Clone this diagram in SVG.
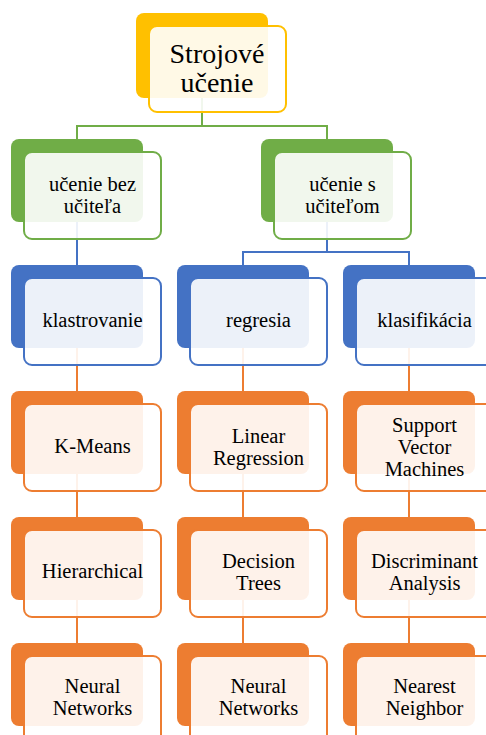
<svg xmlns="http://www.w3.org/2000/svg" width="486" height="735" viewBox="0 0 486 735">
<style>
.bk{stroke:none}
.fr{fill:#fff;fill-opacity:0.9;stroke-width:2}
.y .bk{fill:#FFC000}.y .fr{stroke:#FFC000}
.g .bk{fill:#70AD47}.g .fr{stroke:#70AD47}
.b .bk{fill:#4472C4}.b .fr{stroke:#4472C4}
.o .bk{fill:#ED7D31}.o .fr{stroke:#ED7D31}
.c{fill:none;stroke-width:2}
.cg{stroke:#70AD47}.cb{stroke:#4472C4}.co{stroke:#ED7D31}
svg text, text, tspan{font-family:'Liberation Serif','Times New Roman',serif !important;fill:#000;text-anchor:middle}
</style>
<rect width="486" height="735" fill="#fff"/>
<g id="connectors">
<path class="c cg" d="M202 98V126M77 126H327M77 125V139M327 125V139"/>
<path class="c cb" d="M77 222V265M327 222V252M243 252H409M243 251V265M409 251V265"/>
<path class="c co" d="M77 348V391M243 348V391M409 348V391M77 474V517M243 474V517M409 474V517M77 600V643M243 600V643M409 600V643"/>
</g>
<g id="n-root" class="y">
<rect class="bk" x="136" y="13" width="132" height="85" rx="8"/>
<rect class="fr" x="149" y="26" width="137" height="86" rx="8"/>
<text style="font-family:'Liberation Serif',serif !important;font-size:28px" x="217" y="63">Strojové</text>
<text style="font-family:'Liberation Serif',serif !important;font-size:28px" x="217" y="92">učenie</text>
</g>
<g id="n-bez" class="g">
<rect class="bk" x="11" y="139" width="132" height="83" rx="8"/>
<rect class="fr" x="24" y="152" width="137" height="87" rx="8"/>
<text style="font-family:'Liberation Serif',serif !important;font-size:20.5px" x="92.5" y="191">učenie bez</text>
<text style="font-family:'Liberation Serif',serif !important;font-size:20.5px" x="92.5" y="213">učiteľa</text>
</g>
<g id="n-s" class="g">
<rect class="bk" x="261" y="139" width="132" height="83" rx="8"/>
<rect class="fr" x="274" y="152" width="137" height="87" rx="8"/>
<text style="font-family:'Liberation Serif',serif !important;font-size:20.5px" x="342.5" y="191">učenie s</text>
<text style="font-family:'Liberation Serif',serif !important;font-size:20.5px" x="342.5" y="213">učiteľom</text>
</g>
<g id="n-klastrovanie" class="b">
<rect class="bk" x="11" y="265" width="132" height="83" rx="8"/>
<rect class="fr" x="24" y="278" width="137" height="87" rx="8"/>
<text style="font-family:'Liberation Serif',serif !important;font-size:20.5px" x="92.5" y="327">klastrovanie</text>
</g>
<g id="n-regresia" class="b">
<rect class="bk" x="177" y="265" width="132" height="83" rx="8"/>
<rect class="fr" x="190" y="278" width="137" height="87" rx="8"/>
<text style="font-family:'Liberation Serif',serif !important;font-size:20.5px" x="258.5" y="327">regresia</text>
</g>
<g id="n-klasifikacia" class="b">
<rect class="bk" x="343" y="265" width="132" height="83" rx="8"/>
<rect class="fr" x="356" y="278" width="137" height="87" rx="8"/>
<text style="font-family:'Liberation Serif',serif !important;font-size:20.5px" x="424.5" y="327">klasifikácia</text>
</g>
<g id="n-kmeans" class="o">
<rect class="bk" x="11" y="391" width="132" height="83" rx="8"/>
<rect class="fr" x="24" y="404" width="137" height="87" rx="8"/>
<text style="font-family:'Liberation Serif',serif !important;font-size:20.5px" x="92.5" y="453">K-Means</text>
</g>
<g id="n-linreg" class="o">
<rect class="bk" x="177" y="391" width="132" height="83" rx="8"/>
<rect class="fr" x="190" y="404" width="137" height="87" rx="8"/>
<text style="font-family:'Liberation Serif',serif !important;font-size:20.5px" x="258.5" y="443">Linear</text>
<text style="font-family:'Liberation Serif',serif !important;font-size:20.5px" x="258.5" y="465">Regression</text>
</g>
<g id="n-svm" class="o">
<rect class="bk" x="343" y="391" width="132" height="83" rx="8"/>
<rect class="fr" x="356" y="404" width="137" height="87" rx="8"/>
<text style="font-family:'Liberation Serif',serif !important;font-size:20.5px" x="424.5" y="432">Support</text>
<text style="font-family:'Liberation Serif',serif !important;font-size:20.5px" x="424.5" y="454">Vector</text>
<text style="font-family:'Liberation Serif',serif !important;font-size:20.5px" x="424.5" y="476">Machines</text>
</g>
<g id="n-hier" class="o">
<rect class="bk" x="11" y="517" width="132" height="83" rx="8"/>
<rect class="fr" x="24" y="530" width="137" height="87" rx="8"/>
<text style="font-family:'Liberation Serif',serif !important;font-size:20.5px" x="92.5" y="578">Hierarchical</text>
</g>
<g id="n-dtree" class="o">
<rect class="bk" x="177" y="517" width="132" height="83" rx="8"/>
<rect class="fr" x="190" y="530" width="137" height="87" rx="8"/>
<text style="font-family:'Liberation Serif',serif !important;font-size:20.5px" x="258.5" y="568">Decision</text>
<text style="font-family:'Liberation Serif',serif !important;font-size:20.5px" x="258.5" y="590">Trees</text>
</g>
<g id="n-da" class="o">
<rect class="bk" x="343" y="517" width="132" height="83" rx="8"/>
<rect class="fr" x="356" y="530" width="137" height="87" rx="8"/>
<text style="font-family:'Liberation Serif',serif !important;font-size:20.5px" x="424.5" y="568">Discriminant</text>
<text style="font-family:'Liberation Serif',serif !important;font-size:20.5px" x="424.5" y="590">Analysis</text>
</g>
<g id="n-nn1" class="o">
<rect class="bk" x="11" y="643" width="132" height="83" rx="8"/>
<rect class="fr" x="24" y="656" width="137" height="87" rx="8"/>
<text style="font-family:'Liberation Serif',serif !important;font-size:20.5px" x="92.5" y="693">Neural</text>
<text style="font-family:'Liberation Serif',serif !important;font-size:20.5px" x="92.5" y="715">Networks</text>
</g>
<g id="n-nn2" class="o">
<rect class="bk" x="177" y="643" width="132" height="83" rx="8"/>
<rect class="fr" x="190" y="656" width="137" height="87" rx="8"/>
<text style="font-family:'Liberation Serif',serif !important;font-size:20.5px" x="258.5" y="693">Neural</text>
<text style="font-family:'Liberation Serif',serif !important;font-size:20.5px" x="258.5" y="715">Networks</text>
</g>
<g id="n-nn3" class="o">
<rect class="bk" x="343" y="643" width="132" height="83" rx="8"/>
<rect class="fr" x="356" y="656" width="137" height="87" rx="8"/>
<text style="font-family:'Liberation Serif',serif !important;font-size:20.5px" x="424.5" y="693">Nearest</text>
<text style="font-family:'Liberation Serif',serif !important;font-size:20.5px" x="424.5" y="715">Neighbor</text>
</g>
</svg>
